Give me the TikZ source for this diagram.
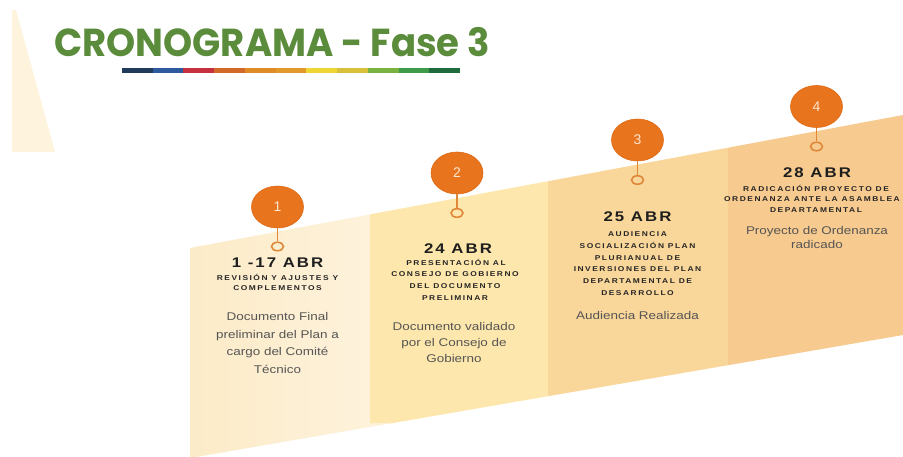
\documentclass[tikz,border=0pt]{standalone}
\usepackage{fontspec}
\usetikzlibrary{shapes.geometric}
\newfontfamily\titlefont{Poppins}
\newfontfamily\headfont{Liberation Sans}[LetterSpace=12]
\newfontfamily\subfont{Liberation Sans}[LetterSpace=18]
\newfontfamily\bodyfont{Liberation Sans}
\definecolor{titlegreen}{HTML}{5A8C3B}
\definecolor{tri}{HTML}{FEF3DC}
\definecolor{p1a}{HTML}{FCEBC7}
\definecolor{p1b}{HTML}{FEF3DF}
\definecolor{p2}{HTML}{FDE7AC}
\definecolor{p3}{HTML}{F9D699}
\definecolor{p4}{HTML}{F7CA8F}
\definecolor{circ}{HTML}{E8741E}
\definecolor{circedge}{HTML}{DE6914}
\definecolor{ringc}{HTML}{E0883A}
\definecolor{numtxt}{HTML}{FCE6D0}
\definecolor{headc}{HTML}{1E1E1E}
\definecolor{subc}{HTML}{262626}
\definecolor{bodyc}{HTML}{555555}
\definecolor{bar1}{HTML}{1F3A5A}
\definecolor{bar2}{HTML}{2C5A9C}
\definecolor{bar3}{HTML}{C7303F}
\definecolor{bar4}{HTML}{D2682A}
\definecolor{bar5}{HTML}{DF8C26}
\definecolor{bar6}{HTML}{E19A2A}
\definecolor{bar7}{HTML}{EDD534}
\definecolor{bar8}{HTML}{D8C03A}
\definecolor{bar9}{HTML}{79B23F}
\definecolor{bar10}{HTML}{3E9B48}
\definecolor{bar11}{HTML}{1F6B3E}
\tikzset{
  numcirc/.style={ellipse, fill=circ, draw=circedge, line width=0.6pt, minimum width=52pt, minimum height=42pt, inner sep=0pt, text=numtxt, font=\bodyfont\fontsize{14}{14}\selectfont},
  ringnode/.style={ellipse, draw=ringc, line width=1.6pt, minimum width=12pt, minimum height=8.5pt, inner sep=0pt},
  stem/.style={draw=ringc, line width=1.6pt},
  headtxt/.style={anchor=base, xscale=1.2, inner sep=0pt, text=headc, font=\headfont\bfseries\fontsize{14}{14}\selectfont},
  subtxt/.style={anchor=base, xscale=1.2, inner sep=0pt, text=subc, font=\subfont\bfseries\fontsize{7}{7}\selectfont},
  bodytxt/.style={anchor=base, xscale=1.2, inner sep=0pt, text=bodyc, font=\bodyfont\fontsize{11.2}{11.2}\selectfont},
  titletxt/.style={anchor=base west, inner sep=0pt, xscale=0.95, text=titlegreen, font=\titlefont\bfseries\fontsize{39}{39}\selectfont}
}
\begin{document}
\begin{tikzpicture}[x=1pt, y=-1pt]
\useasboundingbox (0,0) rectangle (903,456);
\fill[white] (0,0) rectangle (903,456);
% left triangle
\fill[tri] (12,10) -- (16,10) -- (55,152) -- (12,152) -- cycle;
% title
\node[titletxt] (title) at (54,56) {CRONOGRAMA - Fase 3};
\foreach \c [count=\i from 0] in {bar1,bar2,bar3,bar4,bar5,bar6,bar7,bar8,bar9,bar10,bar11}
  \fill[\c] ({122+\i*30.73},68) rectangle ({122+(\i+1)*30.73},72.5);
% band panels
\shade[left color=p1a, right color=p1b] (190,248) -- (400,208.8) -- (400,421.8) -- (190,458) -- cycle;
\fill[p2] (370,214.4) -- (548,181.2) -- (548,396.2) -- (393,423) -- (370,423) -- cycle;
\fill[p3] (548,181.2) -- (728,147.7) -- (728,365.2) -- (548,396.2) -- cycle;
\fill[p4] (728,147.7) -- (903,115) -- (903,335) -- (728,365.2) -- cycle;
% markers
\node[numcirc] (c1) at (277.5,207) {1};
\node[numcirc] (c2) at (457,173) {2};
\node[numcirc] (c3) at (637.5,140) {3};
\node[numcirc] (c4) at (816.5,106.5) {4};
\node[ringnode] (r1) at (277.5,246.5) {};
\node[ringnode] (r2) at (457,213) {};
\node[ringnode] (r3) at (637.5,180) {};
\node[ringnode] (r4) at (816.5,146.5) {};
\draw[stem] (c1.south) -- (r1.north);
\draw[stem] (c2.south) -- (r2.north);
\draw[stem] (c3.south) -- (r3.north);
\draw[stem] (c4.south) -- (r4.north);
% panel 1
\node[headtxt] (h1) at (277.5,267.3) {1 -17 ABR};
\node[subtxt] (s1a) at (277.5,280) {REVISIÓN Y AJUSTES Y};
\node[subtxt] (s1b) at (277.5,290.5) {COMPLEMENTOS};
\node[bodytxt] (b1a) at (277.5,320.7) {Documento Final};
\node[bodytxt] (b1b) at (277.5,338.2) {preliminar del Plan a};
\node[bodytxt] (b1c) at (277.5,355.7) {cargo del Comité};
\node[bodytxt] (b1d) at (277.5,373.2) {Técnico};
% panel 2
\node[headtxt] (h2) at (458,253.3) {24 ABR};
\node[subtxt] (s2a) at (456,265) {PRESENTACIÓN AL};
\node[subtxt] (s2b) at (455,276.7) {CONSEJO DE GOBIERNO};
\node[subtxt] (s2c) at (455,288.4) {DEL DOCUMENTO};
\node[subtxt] (s2d) at (455,300) {PRELIMINAR};
\node[bodytxt] (b2a) at (454,330) {Documento validado};
\node[bodytxt] (b2b) at (454,346) {por el Consejo de};
\node[bodytxt] (b2c) at (454,362) {Gobierno};
% panel 3
\node[headtxt] (h3) at (637.5,221.7) {25 ABR};
\node[subtxt] (s3a) at (637.5,236.8) {AUDIENCIA};
\node[subtxt] (s3b) at (637.5,248.5) {SOCIALIZACIÓN PLAN};
\node[subtxt] (s3c) at (637.5,260.2) {PLURIANUAL DE};
\node[subtxt] (s3d) at (637.5,271.9) {INVERSIONES DEL PLAN};
\node[subtxt] (s3e) at (637.5,283.6) {DEPARTAMENTAL DE};
\node[subtxt] (s3f) at (637.5,295.3) {DESARROLLO};
\node[bodytxt] (b3a) at (637.5,319.3) {Audiencia Realizada};
% panel 4
\node[headtxt] (h4) at (817,177.7) {28 ABR};
\node[subtxt] (s4a) at (816,191) {RADICACIÓN PROYECTO DE};
\node[subtxt] (s4b) at (812,201.5) {ORDENANZA ANTE LA ASAMBLEA};
\node[subtxt] (s4c) at (816,212) {DEPARTAMENTAL};
\node[bodytxt] (b4a) at (817,234) {Proyecto de Ordenanza};
\node[bodytxt] (b4b) at (817,248.5) {radicado};
\end{tikzpicture}
\end{document}
